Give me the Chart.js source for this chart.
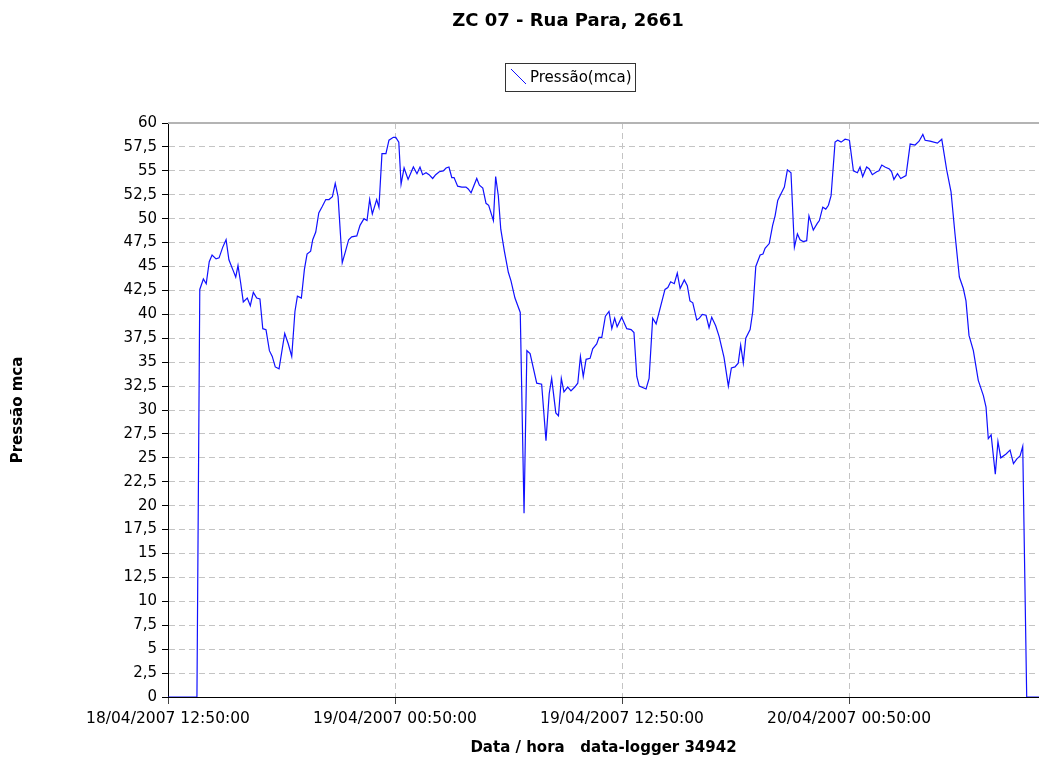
<!DOCTYPE html>
<html>
<head>
<meta charset="utf-8">
<script src="https://cdn.jsdelivr.net/npm/chart.js@4.4.1/dist/chart.umd.min.js"></script>
<style>
  html, body { margin: 0; padding: 0; background: #fff; }
</style>
</head>
<body>
<canvas id="chart" width="1039" height="757"></canvas>
<script>
// hours since 18/04/2007 12:50:00
var hours = [
  0, 1.53, 1.68, 1.87, 2.02, 2.18, 2.33, 2.54, 2.70, 2.89,
  3.07, 3.22, 3.42, 3.58, 3.70, 3.84, 3.98, 4.19, 4.35, 4.51,
  4.69, 4.86, 5.01, 5.18, 5.36, 5.51, 5.67, 5.87, 6.17, 6.36,
  6.54, 6.71, 6.84, 7.05, 7.21, 7.35, 7.54, 7.65, 7.81, 7.97,
  8.16, 8.34, 8.51, 8.69, 8.84, 8.99, 9.21, 9.37, 9.55, 9.71,
  9.98, 10.15, 10.36, 10.52, 10.66, 10.80, 11.03, 11.15, 11.31, 11.52,
  11.68, 11.91, 12.04, 12.20, 12.32, 12.48, 12.69, 12.97, 13.16, 13.32,
  13.46, 13.64, 13.80, 13.99, 14.15, 14.34, 14.55, 14.70, 14.85, 15.00,
  15.12, 15.31, 15.53, 15.75, 15.87, 16.02, 16.32, 16.46, 16.64, 16.81,
  16.95, 17.20, 17.32, 17.46, 17.59, 17.78, 17.99, 18.13, 18.34, 18.62,
  18.82, 18.97, 19.14, 19.49, 19.75, 19.98, 20.15, 20.28, 20.50, 20.64,
  20.79, 20.93, 21.13, 21.30, 21.50, 21.66, 21.80, 21.95, 22.10, 22.31,
  22.45, 22.66, 22.78, 22.93, 23.12, 23.31, 23.46, 23.61, 23.74, 23.98,
  24.25, 24.48, 24.63, 24.78, 24.91, 25.27, 25.43, 25.62, 25.80, 26.27,
  26.42, 26.57, 26.76, 26.92, 27.07, 27.29, 27.45, 27.59, 27.74, 27.95,
  28.09, 28.24, 28.44, 28.60, 28.74, 28.95, 29.13, 29.39, 29.62, 29.78,
  29.97, 30.14, 30.27, 30.41, 30.54, 30.77, 30.91, 31.07, 31.30, 31.45,
  31.56, 31.78, 31.96, 32.09, 32.23, 32.35, 32.58, 32.74, 32.93, 33.11,
  33.27, 33.41, 33.58, 33.76, 33.88, 34.11, 34.32, 34.43, 34.61, 34.77,
  34.91, 35.05, 35.26, 35.40, 35.58, 35.79, 36.02, 36.23, 36.44, 36.58,
  36.72, 36.93, 37.07, 37.23, 37.46, 37.58, 37.73, 37.90, 38.13, 38.25,
  38.37, 38.56, 38.73, 39.01, 39.23, 39.49, 39.70, 39.90, 40.02, 40.28,
  40.67, 40.90, 41.16, 41.39, 41.60, 41.83, 42.04, 42.18, 42.34, 42.57,
  42.83, 43.10, 43.24, 43.36, 43.51, 43.73, 43.87, 44.02, 44.30, 44.51,
  44.69, 44.87, 45.04, 45.18, 45.39, 46.04
];
var pressure = [
  0, 0, 42.6, 43.7, 43.2, 45.5, 46.2, 45.8, 45.9, 47.0,
  47.8, 45.7, 44.7, 43.9, 45.1, 43.3, 41.3, 41.7, 40.9, 42.3,
  41.7, 41.6, 38.5, 38.4, 36.2, 35.6, 34.5, 34.3, 38.0, 36.9,
  35.6, 40.3, 41.9, 41.7, 44.7, 46.3, 46.6, 47.8, 48.6, 50.6,
  51.3, 52.0, 52.0, 52.3, 53.7, 52.3, 45.4, 46.5, 47.8, 48.1,
  48.2, 49.3, 50.0, 49.8, 52.0, 50.5, 52.0, 51.2, 56.8, 56.8,
  58.2, 58.5, 58.5, 58.0, 53.6, 55.3, 54.1, 55.4, 54.7, 55.4,
  54.6, 54.8, 54.6, 54.2, 54.6, 54.9, 55.0, 55.3, 55.4, 54.3,
  54.3, 53.4, 53.3, 53.3, 53.1, 52.7, 54.2, 53.5, 53.2, 51.6,
  51.4, 49.8, 54.4, 52.4, 48.9, 46.6, 44.4, 43.5, 41.7, 40.2,
  19.2, 36.2, 35.9, 32.8, 32.7, 26.8, 31.7, 33.3, 29.7, 29.4,
  33.3, 31.9, 32.4, 32.0, 32.4, 32.8, 35.6, 33.5, 35.3, 35.4,
  36.4, 36.9, 37.6, 37.6, 39.8, 40.3, 38.5, 39.6, 38.7, 39.7,
  38.5, 38.4, 38.1, 33.5, 32.5, 32.2, 33.3, 39.6, 39.0, 42.6,
  42.8, 43.4, 43.2, 44.3, 42.7, 43.6, 43.0, 41.4, 41.2, 39.4,
  39.6, 40.0, 39.9, 38.6, 39.7, 38.8, 37.7, 35.5, 32.5, 34.4,
  34.5, 34.9, 36.8, 34.9, 37.5, 38.4, 40.3, 45.0, 46.2, 46.3,
  46.9, 47.4, 49.3, 50.3, 51.9, 52.4, 53.3, 55.1, 54.8, 47.0,
  48.4, 47.8, 47.6, 47.7, 50.3, 48.8, 49.5, 49.8, 51.2, 51.0,
  51.4, 52.4, 58.0, 58.2, 58.0, 58.3, 58.2, 55.0, 54.8, 55.4,
  54.4, 55.4, 55.2, 54.6, 54.9, 55.0, 55.6, 55.4, 55.2, 54.9,
  54.1, 54.7, 54.2, 54.5, 57.8, 57.7, 58.1, 58.8, 58.2, 58.1,
  57.9, 58.3, 55.1, 52.8, 48.4, 43.9, 42.7, 41.4, 37.8, 36.2,
  33.1, 31.5, 30.3, 27.0, 27.4, 23.3, 26.7, 25.0, 25.4, 25.8,
  24.4, 24.9, 25.2, 26.2, 0, 0
];
var tickHours = [0, 12, 24, 36];
var tickLabels = ['18/04/2007 12:50:00', '19/04/2007 00:50:00', '19/04/2007 12:50:00', '20/04/2007 00:50:00'];
var chartTitle = 'ZC 07 - Rua Para, 2661';
var seriesLabel = 'Pressão(mca)';
var xTitle = 'Data / hora   data-logger 34942';
var yTitle = 'Pressão mca';

var FONT = 'DejaVu Sans';
var gridGray = '#c4c4c4';
var lineBlue = '#1010ff';

// title, framed legend and the grey top edge of the plot
var decor = {
  id: 'decor',
  afterDraw: function(chart) {
    var ctx = chart.ctx, a = chart.chartArea;
    ctx.save();
    ctx.fillStyle = '#b4b4b4';
    ctx.fillRect(a.left, a.top - 1, a.right - a.left, 2);

    ctx.fillStyle = '#000';
    ctx.font = 'bold 18px "' + FONT + '"';
    ctx.textAlign = 'center';
    ctx.textBaseline = 'middle';
    ctx.fillText(chartTitle, 568, 21);

    ctx.strokeStyle = '#333';
    ctx.lineWidth = 1;
    ctx.strokeRect(505.5, 63.5, 130, 28);
    ctx.strokeStyle = lineBlue;
    ctx.beginPath();
    ctx.moveTo(511, 69);
    ctx.lineTo(526, 84);
    ctx.stroke();
    ctx.font = '15px "' + FONT + '"';
    ctx.textAlign = 'left';
    ctx.fillText(seriesLabel, 530, 78);
    ctx.restore();
  }
};

function gridColor(edge) {
  return function(c) {
    return (c.tick && (c.tick.value === 0 || c.tick.value === edge)) ? 'rgba(0,0,0,0)' : gridGray;
  };
}

var chart = new Chart('chart', {
  type: 'line',
  data: {
    datasets: [{
      label: seriesLabel,
      data: hours.map(function(h, i) { return {x: h, y: pressure[i]}; }),
      borderColor: lineBlue,
      borderWidth: 1.2,
      pointRadius: 0,
      tension: 0,
      fill: false
    }]
  },
  options: {
    responsive: false,
    animation: false,
    devicePixelRatio: 1,
    layout: { padding: { top: 123, left: 0, right: 0, bottom: 0 } },
    plugins: {
      legend: { display: false },
      title: { display: false },
      tooltip: { enabled: false }
    },
    scales: {
      x: {
        type: 'linear',
        min: 0,
        max: 46.04,
        afterBuildTicks: function(s) { s.ticks = tickHours.map(function(v) { return {value: v}; }); },
        afterFit: function(s) { s.height = 60; },
        ticks: {
          autoSkip: false,
          maxRotation: 0,
          padding: 6,
          color: '#000',
          font: { family: FONT, size: 15.5 },
          callback: function(v) { return tickLabels[tickHours.indexOf(v)]; }
        },
        grid: { color: gridColor(-1), tickColor: '#444', tickLength: 7 },
        border: { color: '#000', dash: [6, 4] },
        title: {
          display: true,
          text: xTitle,
          color: '#000',
          font: { family: FONT, size: 15, weight: 'bold' },
          padding: { top: 0, bottom: 0 }
        }
      },
      y: {
        min: 0,
        max: 60,
        afterFit: function(s) { s.width = 168; },
        ticks: {
          stepSize: 2.5,
          autoSkip: false,
          padding: 5,
          color: '#000',
          font: { family: FONT, size: 15 },
          callback: function(v) { return String(v).replace('.', ','); }
        },
        grid: { color: gridColor(60), tickColor: '#000', tickLength: 6 },
        border: { color: '#000', dash: [6, 4] },
        title: {
          display: true,
          text: yTitle,
          color: '#000',
          font: { family: FONT, size: 15, weight: 'bold' },
          padding: { top: 9.5, bottom: 0 }
        }
      }
    }
  },
  plugins: [decor]
});
</script>
</body>
</html>
